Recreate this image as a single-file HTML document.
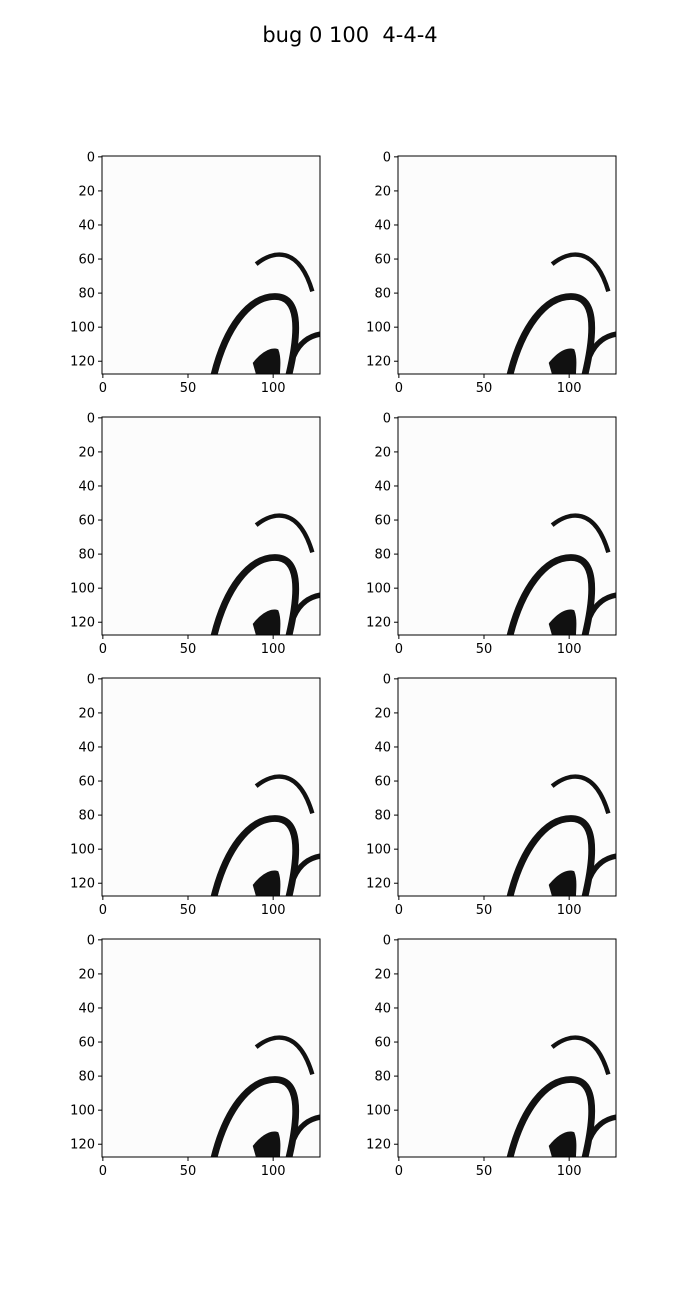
<!DOCTYPE html>
<html><head><meta charset="utf-8"><style>
body{margin:0;background:#fff}
svg text{font-family:"DejaVu Sans","Liberation Sans",sans-serif}
</style></head><body>
<svg id="fig" width="700" height="1300" xmlns="http://www.w3.org/2000/svg">
<rect width="700" height="1300" fill="#fff"/>
<text x="350" y="42" text-anchor="middle" font-size="21" style="white-space:pre">bug 0 100&#160; 4-4-4</text>
<defs>
<g id="img">
<rect x="-0.5" y="-0.5" width="128" height="128" fill="#fcfcfc"/>
<path d="M90 63 C100 55,115 52,123 79" fill="none" stroke="#111" stroke-width="2.6"/>
<path d="M65 129 C72 100,86 82,101 82 C115 82,116 100,109 129" fill="none" stroke="#111" stroke-width="4"/>
<path d="M112 117 C116 108,122 105,128 104" fill="none" stroke="#111" stroke-width="3.2"/>
<path d="M88 121 C92 116,98 111,103 113 C105 118,104 124,104 128 L90 128 Z" fill="#111"/>
</g>
<clipPath id="cp"><rect x="-0.5" y="-0.5" width="128" height="128"/></clipPath>
</defs>
<g id="axes"></g>
</svg>
<script>
const colLefts=[102,398];
const rowTops=[156,417,678,939];
const xTicks=[0,50,100];
const yTicks=[0,20,40,60,80,100,120];
const size=218, units=128, k=size/units;
const ns="http://www.w3.org/2000/svg";
const root=document.getElementById('axes');
function mk(t,a,p){const e=document.createElementNS(ns,t);for(const n in a)e.setAttribute(n,a[n]);p.appendChild(e);return e;}
rowTops.forEach((top,r)=>colLefts.forEach((left,c)=>{
 const g=mk('g',{},root);
 
 
 const sx=v=>left+(v+0.5)*k, sy=v=>top+(v+0.5)*k;
 const im=mk('g',{transform:`translate(${sx(0)},${sy(0)}) scale(${k})`,'clip-path':'url(#cp)'},g);
 const u=mk('use',{href:'#img'},im);
 
 
 const fr=mk('rect',{x:left,y:top,width:size,height:size,fill:'none',stroke:'#000','stroke-width':1},g);
 
 
 xTicks.forEach(v=>{const x=sx(v);
  mk('line',{x1:x,x2:x,y1:top+size,y2:top+size+4,stroke:'#000'},g);
  const t=mk('text',{x:x,y:top+size+18,'text-anchor':'middle','font-size':13},g);t.textContent=v;
  
  });
 yTicks.forEach(v=>{const y=sy(v);
  mk('line',{x1:left-4,x2:left,y1:y,y2:y,stroke:'#000'},g);
  const t=mk('text',{x:left-7,y:y+4.5,'text-anchor':'end','font-size':13},g);t.textContent=v;
  
  });
}));
</script>
</body></html>
